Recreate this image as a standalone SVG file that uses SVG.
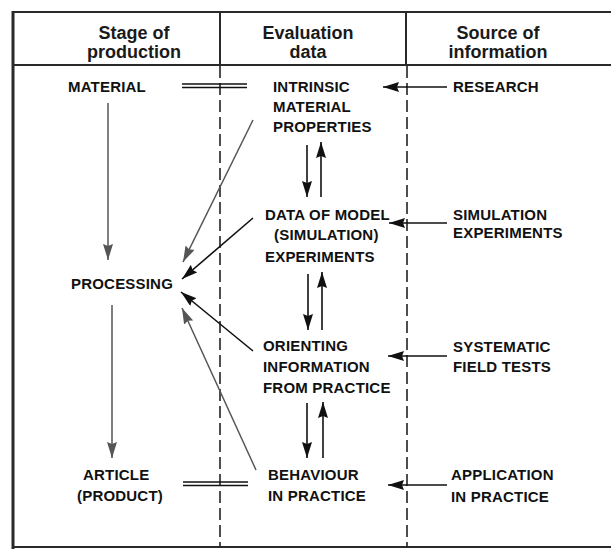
<svg xmlns="http://www.w3.org/2000/svg" width="611" height="549" viewBox="0 0 611 549">
  <style>
    .frame { stroke: #2a2a2a; fill: none; }
    .dash { stroke: #222; stroke-width: 1.6; stroke-dasharray: 12 5; fill: none; }
    .hdr { font-family: "Liberation Sans", Arial, sans-serif; font-weight: bold; font-size: 18px; fill: #1a1a1a; text-anchor: middle; }
    .lbl { font-family: "Liberation Sans", Arial, sans-serif; font-weight: bold; font-size: 15px; fill: #111; letter-spacing: 0.2px; }
    .blk { stroke: #111; stroke-width: 1.6; fill: none; }
    .gry { stroke: #555; stroke-width: 1.5; fill: none; }
    .dbl { stroke: #111; stroke-width: 1.4; fill: none; }
  </style>
  <defs>
    <marker id="ah" viewBox="0 0 16 10" refX="16" refY="5" markerWidth="16" markerHeight="10" markerUnits="userSpaceOnUse" orient="auto">
      <path d="M0,0 L16,5 L0,10 L2,5 Z" fill="#111"/>
    </marker>
    <marker id="ahg" viewBox="0 0 16 10" refX="16" refY="5" markerWidth="16" markerHeight="10" markerUnits="userSpaceOnUse" orient="auto">
      <path d="M0,0 L16,5 L0,10 L2,5 Z" fill="#555"/>
    </marker>
  </defs>

  <rect x="0" y="0" width="611" height="549" fill="#fff"/>

  <!-- table frame -->
  <g id="frame">
    <line class="frame" x1="13" y1="12" x2="611" y2="12" stroke-width="2"/>
    <line class="frame" x1="13" y1="11" x2="13" y2="549" stroke-width="3"/>
    <line class="frame" x1="13" y1="65" x2="611" y2="65" stroke-width="2"/>
    <line class="frame" x1="13" y1="547" x2="611" y2="547" stroke-width="2"/>
    <line class="frame" x1="220" y1="12" x2="220" y2="65" stroke-width="2"/>
    <line class="frame" x1="406" y1="12" x2="406" y2="65" stroke-width="2"/>
    <line class="dash" x1="220" y1="66" x2="220" y2="547"/>
    <line class="dash" x1="407" y1="66" x2="407" y2="547"/>
  </g>

  <!-- column headings -->
  <g id="headings">
    <text class="hdr" x="134" y="39">Stage of</text>
    <text class="hdr" x="134" y="58">production</text>
    <text class="hdr" x="308" y="39">Evaluation</text>
    <text class="hdr" x="308" y="58">data</text>
    <text class="hdr" x="498" y="39">Source of</text>
    <text class="hdr" x="498" y="58">information</text>
  </g>

  <!-- stage of production -->
  <g id="material"><text class="lbl" x="68" y="92">MATERIAL</text></g>
  <g id="processing"><text class="lbl" x="71" y="289">PROCESSING</text></g>
  <g id="article">
    <text class="lbl" x="83" y="480">ARTICLE</text>
    <text class="lbl" x="77" y="501">(PRODUCT)</text>
  </g>

  <!-- evaluation data -->
  <g id="intrinsic">
    <text class="lbl" x="273" y="92">INTRINSIC</text>
    <text class="lbl" x="273" y="112">MATERIAL</text>
    <text class="lbl" x="273" y="132">PROPERTIES</text>
  </g>
  <g id="model-data">
    <text class="lbl" x="265" y="220">DATA OF MODEL</text>
    <text class="lbl" x="274" y="240">(SIMULATION)</text>
    <text class="lbl" x="265" y="262">EXPERIMENTS</text>
  </g>
  <g id="orienting">
    <text class="lbl" x="263" y="351">ORIENTING</text>
    <text class="lbl" x="263" y="372">INFORMATION</text>
    <text class="lbl" x="263" y="393">FROM PRACTICE</text>
  </g>
  <g id="behaviour">
    <text class="lbl" x="268" y="480">BEHAVIOUR</text>
    <text class="lbl" x="268" y="501">IN PRACTICE</text>
  </g>

  <!-- sources of information -->
  <g id="research"><text class="lbl" x="453" y="92">RESEARCH</text></g>
  <g id="simulation">
    <text class="lbl" x="453" y="220">SIMULATION</text>
    <text class="lbl" x="453" y="238">EXPERIMENTS</text>
  </g>
  <g id="field-tests">
    <text class="lbl" x="453" y="352">SYSTEMATIC</text>
    <text class="lbl" x="453" y="372">FIELD TESTS</text>
  </g>
  <g id="application">
    <text class="lbl" x="451" y="480">APPLICATION</text>
    <text class="lbl" x="451" y="502">IN PRACTICE</text>
  </g>

  <!-- connectors -->
  <g id="connectors">
    <!-- equivalence bars -->
    <line class="dbl" x1="182" y1="84" x2="247" y2="84"/>
    <line class="dbl" x1="182" y1="87.5" x2="247" y2="87.5"/>
    <line class="dbl" x1="183" y1="482" x2="248" y2="482"/>
    <line class="dbl" x1="183" y1="485.5" x2="248" y2="485.5"/>

    <!-- production flow -->
    <line class="gry" x1="108" y1="103" x2="108" y2="260" marker-end="url(#ahg)"/>
    <line class="gry" x1="112" y1="305" x2="112" y2="458" marker-end="url(#ahg)"/>

    <!-- evaluation data to processing -->
    <line class="gry" x1="253" y1="120" x2="183" y2="262" marker-end="url(#ahg)"/>
    <line class="blk" x1="253" y1="218" x2="182" y2="279" marker-end="url(#ah)"/>
    <line class="blk" x1="253" y1="351" x2="181" y2="292" marker-end="url(#ah)"/>
    <line class="gry" x1="256" y1="470" x2="182" y2="308" marker-end="url(#ahg)"/>

    <!-- feedback pairs -->
    <line class="blk" x1="307" y1="145" x2="307" y2="197" marker-end="url(#ah)"/>
    <line class="blk" x1="321" y1="197" x2="321" y2="142" marker-end="url(#ah)"/>
    <line class="blk" x1="308" y1="274" x2="308" y2="330" marker-end="url(#ah)"/>
    <line class="blk" x1="322" y1="330" x2="322" y2="272" marker-end="url(#ah)"/>
    <line class="blk" x1="307" y1="403" x2="307" y2="458" marker-end="url(#ah)" stroke-width="2"/>
    <line class="blk" x1="323" y1="458" x2="323" y2="402" marker-end="url(#ah)" stroke-width="2"/>

    <!-- information sources -->
    <line class="blk" x1="447" y1="87" x2="383" y2="87" marker-end="url(#ah)"/>
    <line class="blk" x1="447" y1="223" x2="389" y2="223" marker-end="url(#ah)"/>
    <line class="blk" x1="447" y1="356" x2="388" y2="356" marker-end="url(#ah)"/>
    <line class="blk" x1="447" y1="485" x2="388" y2="485" marker-end="url(#ah)"/>
  </g>
</svg>
